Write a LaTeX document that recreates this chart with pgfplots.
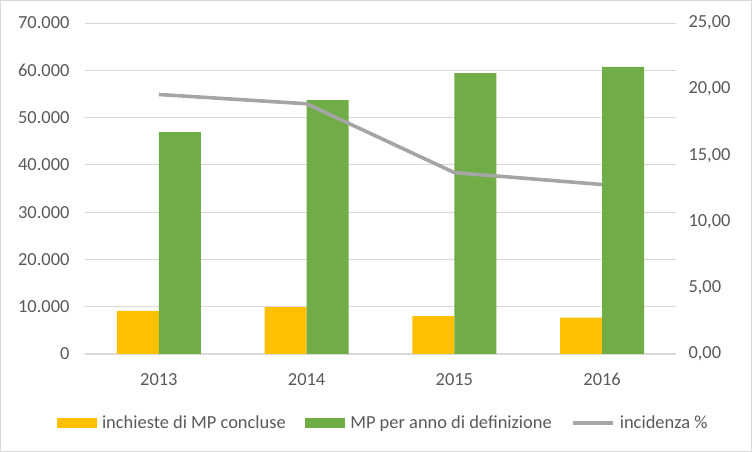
\documentclass[border=0pt]{standalone}
\usepackage{pgfplots}
\pgfplotsset{compat=1.18}
\usepackage{fontspec}
\setmainfont{Carlito}
\definecolor{cyel}{HTML}{FFC000}
\definecolor{cgrn}{HTML}{70AD47}
\definecolor{cline}{HTML}{A5A5A5}
\definecolor{cgrid}{HTML}{D9D9D9}
\definecolor{ctxt}{HTML}{595959}
\begin{document}
\begin{tikzpicture}
\useasboundingbox (0,0) rectangle (752bp,452bp);
\draw[cgrid, line width=1.2bp] (0.6bp,0.6bp) rectangle (751.4bp,451.4bp);
\begin{axis}[
  at={(85bp,98bp)}, anchor=south west,
  scale only axis, width=591bp, height=331bp,
  ybar=0pt, bar width=42bp,
  xmin=-0.5, xmax=3.5, ymin=0, ymax=70000,
  xtick={0,1,2,3}, xticklabels={2013,2014,2015,2016},
  ytick={0,10000,...,70000},
  scaled y ticks=false,
  /pgf/number format/.cd, fixed, 1000 sep={.}, assume math mode=true,
  /pgfplots/.cd,
  axis y line*=left, axis x line*=bottom,
  y axis line style={draw=none},
  x axis line style={cgrid, line width=1bp},
  ymajorgrids, grid style={cgrid, line width=0.8bp},
  major tick length=0pt,
  tick label style={font=\fontsize{18.5}{20}\selectfont, text=ctxt},
  yticklabel style={xshift=-12bp},
  xticklabel style={yshift=-16bp},
  clip=false,
]
\addplot[fill=cyel, draw=none] coordinates {(0,9100) (1,9900) (2,8000) (3,7700)};
\addplot[fill=cgrn, draw=none] coordinates {(0,46900) (1,53700) (2,59400) (3,60700)};
\end{axis}
\begin{axis}[
  at={(85bp,98bp)}, anchor=south west,
  scale only axis, width=591bp, height=331bp,
  xmin=-0.5, xmax=3.5, ymin=0, ymax=25,
  ytick={0,5,...,25},
  axis y line*=right, axis x line=none,
  y axis line style={draw=none},
  major tick length=0pt,
  /pgf/number format/.cd, fixed, fixed zerofill, precision=2, use comma, assume math mode=true,
  /pgfplots/.cd,
  tick label style={font=\fontsize{18.5}{20}\selectfont, text=ctxt},
  yticklabel style={xshift=9bp},
  legend style={at={(0.5,0)}, anchor=center, yshift=-69bp, xshift=2.5bp, draw=none,
    font=\fontsize{18.5}{20}\selectfont, text=ctxt,
    inner sep=0pt,
    /tikz/every odd column/.append style={column sep=3.5bp},
    /tikz/every even column/.append style={column sep=17bp}},
  legend columns=3,
  legend cell align=left,
  clip=false,
]
\addlegendimage{area legend, fill=cyel, draw=none,
  legend image code/.code={\fill[cyel] (-8bp,-5bp) rectangle (32bp,5bp);}}
\addlegendentry{inchieste di MP concluse}
\addlegendimage{area legend, fill=cgrn, draw=none,
  legend image code/.code={\fill[cgrn] (-8bp,-5bp) rectangle (32bp,5bp);}}
\addlegendentry{MP per anno di definizione}
\addplot[cline, line width=3.6bp, mark=none,
  legend image code/.code={\draw[cline, line width=3.6bp] (-8bp,0) -- (32bp,0);}]
  coordinates {(0,19.6) (1,18.9) (2,13.7) (3,12.8)};
\addlegendentry{incidenza \%}
\end{axis}
\end{tikzpicture}
\end{document}
